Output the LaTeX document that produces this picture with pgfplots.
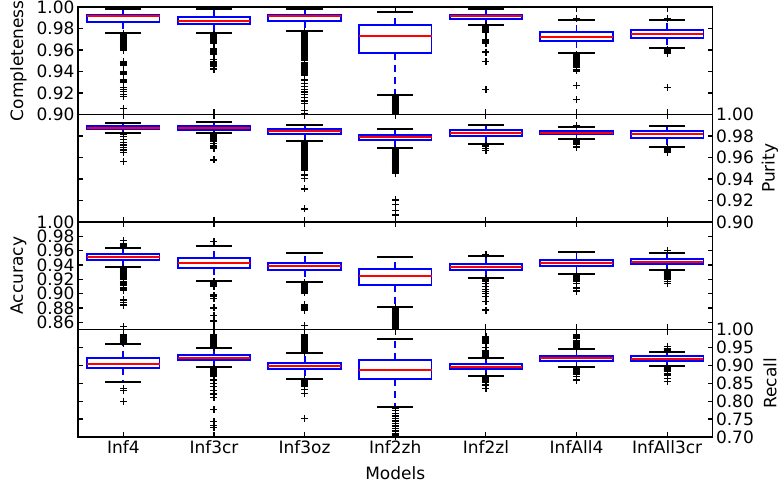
\documentclass[border=0pt]{standalone}
\usepackage{fontspec}
\setmainfont{DejaVu Sans}
\usepackage{pgfplots}
\pgfplotsset{compat=1.18}
\usepgfplotslibrary{statistics}

\pgfplotsset{
  panel/.style={
    width=634.5bp, height=107.5bp, scale only axis,
    anchor=south west,
    xmin=0.5, xmax=7.5, xtick={1,2,3,4,5,6,7}, xticklabels={},
    tick align=inside, major tick length=5bp,
    every tick/.style={black, line width=1.2bp},
    axis line style={black, line width=1.4bp},
    /pgf/number format/fixed, /pgf/number format/fixed zerofill,
    /pgf/number format/precision=2, /pgf/number format/assume math mode=true,
    minor tick num=0, clip=true,
  },
  bp/.style={
    black, solid, line width=1.8bp,
    mark=+, mark size=3.5bp, mark options={black, solid, line width=1.3bp},
    boxplot/draw direction=y,
    boxplot/box extend=0.8,
    boxplot/whisker extend=0.4,
    boxplot/every box/.style={draw=blue, line width=1.8bp, solid},
    boxplot/every median/.style={draw=red, line width=1.8bp, solid},
    boxplot/draw/lower whisker/.code={%
      \draw[blue, line width=1.8bp, dash pattern=on 7bp off 5bp]
        (boxplot box cs:\pgfplotsboxplotvalue{lower quartile},0.5) -- (boxplot box cs:\pgfplotsboxplotvalue{lower whisker},0.5);
      \draw[black, line width=1.8bp, solid]
        (boxplot whisker cs:\pgfplotsboxplotvalue{lower whisker},0) -- (boxplot whisker cs:\pgfplotsboxplotvalue{lower whisker},1);
    },
    boxplot/draw/upper whisker/.code={%
      \draw[blue, line width=1.8bp, dash pattern=on 7bp off 5bp]
        (boxplot box cs:\pgfplotsboxplotvalue{upper quartile},0.5) -- (boxplot box cs:\pgfplotsboxplotvalue{upper whisker},0.5);
      \draw[black, line width=1.8bp, solid]
        (boxplot whisker cs:\pgfplotsboxplotvalue{upper whisker},0) -- (boxplot whisker cs:\pgfplotsboxplotvalue{upper whisker},1);
    },
  },
}
% position, lower whisker, lower quartile, median, upper quartile, upper whisker, outliers
\newcommand{\bx}[7]{\addplot[bp, boxplot prepared={draw position=#1, lower whisker=#2, lower quartile=#3, median=#4, upper quartile=#5, upper whisker=#6}] table[row sep=\\, y index=0] {y\\ #7};}

\begin{document}
\begin{tikzpicture}[font=\fontsize{17bp}{20.4bp}\selectfont]
\useasboundingbox (0,0) rectangle (779bp,487bp);

% ---------------- Completeness ----------------
\begin{axis}[panel, at={(78bp,372.5bp)}, ymin=0.90, ymax=1.00,
  ytick={0.90,0.92,0.94,0.96,0.98,1.00},
  ylabel={Completeness}, ylabel style={at={(axis description cs:-0.0938,0.5)}, anchor=center}]
\bx{1}{0.9761}{0.9860}{0.9916}{0.9929}{0.9978}{0.9752\\0.9740\\0.9728\\0.9716\\0.9704\\0.9692\\0.9680\\0.9668\\0.9656\\0.9644\\0.9632\\0.9620\\0.9608\\0.9596\\0.9495\\0.9483\\0.9470\\0.9458\\0.9400\\0.9388\\0.9376\\0.9320\\0.9308\\0.9296\\0.9250\\0.9232\\0.9215\\0.9185\\0.9170\\0.9055\\}
\bx{2}{0.9755}{0.9842}{0.9873}{0.9904}{0.9978}{0.9748\\0.9736\\0.9724\\0.9712\\0.9700\\0.9688\\0.9676\\0.9664\\0.9612\\0.9600\\0.9588\\0.9576\\0.9564\\0.9512\\0.9495\\0.9478\\0.9461\\0.9444\\0.9430\\0.9420\\}
\bx{3}{0.9780}{0.9867}{0.9916}{0.9929}{0.9978}{0.9772\\0.9760\\0.9748\\0.9736\\0.9724\\0.9712\\0.9700\\0.9688\\0.9676\\0.9664\\0.9652\\0.9640\\0.9628\\0.9616\\0.9604\\0.9592\\0.9580\\0.9568\\0.9556\\0.9544\\0.9532\\0.9520\\0.9508\\0.9480\\0.9468\\0.9456\\0.9444\\0.9432\\0.9420\\0.9408\\0.9396\\0.9384\\0.9372\\0.9360\\0.9320\\0.9290\\0.9260\\0.9235\\0.9210\\0.9185\\0.9160\\0.9125\\0.9105\\0.9040\\0.9010\\}
\bx{4}{0.9184}{0.9569}{0.9733}{0.9833}{0.9957}{0.9172\\0.9162\\0.9152\\0.9142\\0.9132\\0.9122\\0.9112\\0.9102\\0.9092\\0.9082\\0.9072\\0.9062\\0.9052\\0.9042\\0.9032\\0.9022\\0.9012\\0.9002\\0.8990\\}
\bx{5}{0.9833}{0.9888}{0.9916}{0.9929}{0.9978}{0.9825\\0.9815\\0.9805\\0.9795\\0.9785\\0.9775\\0.9765\\0.9700\\0.9690\\0.9678\\0.9665\\0.9580\\0.9490\\0.9230\\}
\bx{6}{0.9569}{0.9680}{0.9724}{0.9764}{0.9879}{0.9895\\0.9558\\0.9548\\0.9538\\0.9528\\0.9518\\0.9508\\0.9498\\0.9488\\0.9478\\0.9466\\0.9450\\0.9435\\0.9420\\0.9405\\0.9270\\0.9140\\}
\bx{7}{0.9616}{0.9709}{0.9746}{0.9783}{0.9879}{0.9895\\0.9606\\0.9597\\0.9588\\0.9579\\0.9570\\0.9250\\}
\end{axis}

% ---------------- Purity ----------------
\begin{axis}[panel, at={(78bp,265bp)}, ymin=0.90, ymax=1.00,
  ytick={0.90,0.92,0.94,0.96,0.98,1.00}, yticklabel pos=right,
  ylabel={Purity}, ylabel style={at={(axis description cs:1.0906,0.5)}, anchor=center}]
\bx{1}{0.9831}{0.9862}{0.9878}{0.9893}{0.9918}{0.9818\\0.9794\\0.9769\\0.9741\\0.9716\\0.9694\\0.9670\\0.9645\\0.9561\\}
\bx{2}{0.9825}{0.9856}{0.9874}{0.9893}{0.9927}{0.9816\\0.9806\\0.9796\\0.9786\\0.9776\\0.9766\\0.9756\\0.9746\\0.9730\\0.9714\\0.9698\\0.9682\\0.9577\\}
\bx{3}{0.9757}{0.9816}{0.9847}{0.9865}{0.9902}{0.9747\\0.9735\\0.9723\\0.9711\\0.9699\\0.9687\\0.9675\\0.9663\\0.9651\\0.9639\\0.9627\\0.9615\\0.9603\\0.9591\\0.9579\\0.9567\\0.9555\\0.9543\\0.9531\\0.9519\\0.9507\\0.9495\\0.9483\\0.9437\\0.9406\\0.9307\\0.9121\\}
\bx{4}{0.9691}{0.9760}{0.9794}{0.9812}{0.9862}{0.9683\\0.9671\\0.9659\\0.9647\\0.9635\\0.9623\\0.9611\\0.9599\\0.9587\\0.9575\\0.9563\\0.9551\\0.9539\\0.9527\\0.9515\\0.9503\\0.9491\\0.9479\\0.9467\\0.9455\\0.9205\\0.9160\\0.9110\\0.9066\\}
\bx{5}{0.9722}{0.9800}{0.9831}{0.9853}{0.9905}{0.9712\\0.9702\\0.9685\\0.9665\\}
\bx{6}{0.9769}{0.9819}{0.9831}{0.9850}{0.9887}{0.9896\\0.9760\\0.9750\\0.9740\\0.9730\\0.9718\\0.9705\\0.9690\\}
\bx{7}{0.9700}{0.9784}{0.9819}{0.9843}{0.9896}{0.9692\\0.9682\\0.9672\\0.9660\\0.9645\\}
\end{axis}

% ---------------- Accuracy ----------------
\begin{axis}[panel, at={(78bp,157.5bp)}, ymin=0.85, ymax=1.00,
  ytick={0.86,0.88,0.90,0.92,0.94,0.96,0.98,1.00},
  ylabel={Accuracy}, ylabel style={at={(axis description cs:-0.0938,0.5)}, anchor=center}]
\bx{1}{0.9372}{0.9474}{0.9507}{0.9549}{0.9642}{0.9650\\0.9658\\0.9666\\0.9674\\0.9682\\0.9690\\0.9698\\0.9745\\0.9362\\0.9352\\0.9342\\0.9332\\0.9322\\0.9312\\0.9302\\0.9292\\0.9282\\0.9272\\0.9262\\0.9252\\0.9242\\0.9232\\0.9222\\0.9212\\0.9195\\0.9170\\0.9150\\0.9130\\0.9110\\0.9090\\0.9070\\0.9050\\0.8912\\0.8880\\0.8840\\0.8540\\}
\bx{2}{0.9177}{0.9353}{0.9423}{0.9493}{0.9670}{0.9726\\0.9165\\0.9155\\0.9145\\0.9135\\0.9120\\0.9105\\0.8980\\0.8958\\0.8935\\0.8800\\0.8700\\0.8620\\}
\bx{3}{0.9167}{0.9326}{0.9386}{0.9433}{0.9572}{0.9155\\0.9145\\0.9135\\0.9125\\0.9115\\0.9100\\0.9085\\0.9070\\0.9050\\0.9030\\0.9010\\0.8850\\0.8840\\0.8830\\0.8820\\0.8810\\0.8800\\0.8790\\0.8780\\0.8770\\0.8555\\}
\bx{4}{0.8819}{0.9121}{0.9251}{0.9340}{0.9516}{0.8800\\0.8788\\0.8776\\0.8764\\0.8752\\0.8740\\0.8728\\0.8716\\0.8704\\0.8692\\0.8680\\0.8668\\0.8656\\0.8644\\0.8632\\0.8620\\0.8608\\0.8596\\0.8584\\0.8572\\0.8560\\0.8548\\0.8536\\0.8524\\0.8512\\0.8500\\0.8488\\}
\bx{5}{0.9223}{0.9330}{0.9367}{0.9409}{0.9526}{0.9540\\0.9212\\0.9204\\0.9196\\0.9188\\0.9180\\0.9170\\0.9144\\0.9098\\0.9060\\0.9030\\0.9005\\0.8958\\0.8888\\0.8772\\}
\bx{6}{0.9270}{0.9386}{0.9433}{0.9470}{0.9577}{0.9258\\0.9250\\0.9242\\0.9234\\0.9226\\0.9218\\0.9210\\0.9200\\0.9190\\0.9178\\0.9167\\0.9140\\0.9080\\0.9037\\}
\bx{7}{0.9330}{0.9409}{0.9447}{0.9484}{0.9563}{0.9605\\0.9318\\0.9310\\0.9302\\0.9294\\0.9286\\0.9278\\0.9268\\0.9255\\0.9240\\0.9220\\0.9195\\0.9167\\0.9144\\}
\end{axis}

% ---------------- Recall ----------------
\begin{axis}[panel, at={(78bp,50bp)}, ymin=0.70, ymax=1.00,
  ytick={0.70,0.75,0.80,0.85,0.90,0.95,1.00}, yticklabel pos=right,
  xticklabels={Inf4,Inf3cr,Inf3oz,Inf2zh,Inf2zl,InfAll4,InfAll3cr},
  xlabel={Models}, xlabel style={at={(axis description cs:0.5,-0.335)}, anchor=center},
  ylabel={Recall}, ylabel style={at={(axis description cs:1.0906,0.5)}, anchor=center}]
\bx{1}{0.8526}{0.8916}{0.9047}{0.9195}{0.9586}{0.9605\\0.9620\\0.9635\\0.9650\\0.9665\\0.9680\\0.9695\\0.9710\\0.9725\\0.9740\\0.9755\\0.9770\\0.9785\\0.9800\\0.9815\\0.9830\\0.9845\\0.8360\\0.8290\\0.8000\\}
\bx{2}{0.8944}{0.9140}{0.9205}{0.9298}{0.9484}{0.9510\\0.9530\\0.9550\\0.9570\\0.9590\\0.9610\\0.9630\\0.9650\\0.9670\\0.9690\\0.9710\\0.9730\\0.9750\\0.9770\\0.9790\\0.9810\\0.9830\\0.9850\\0.8920\\0.8905\\0.8890\\0.8875\\0.8860\\0.8845\\0.8830\\0.8815\\0.8800\\0.8785\\0.8770\\0.8755\\0.8740\\0.8725\\0.8710\\0.8695\\0.8680\\0.8590\\0.8500\\0.8400\\0.8290\\0.8200\\0.8110\\0.7770\\0.7430\\0.7330\\0.7270\\}
\bx{3}{0.8619}{0.8888}{0.8981}{0.9074}{0.9344}{0.9365\\0.9385\\0.9405\\0.9425\\0.9445\\0.9465\\0.9485\\0.9505\\0.9525\\0.9545\\0.9565\\0.9585\\0.9605\\0.9625\\0.9645\\0.9665\\0.9685\\0.9705\\0.9725\\0.9745\\0.9765\\0.9785\\0.9805\\0.9825\\0.9845\\0.8595\\0.8580\\0.8565\\0.8550\\0.8535\\0.8520\\0.8505\\0.8490\\0.8475\\0.8460\\0.8445\\0.8410\\0.8330\\0.8220\\0.7520\\}
\bx{4}{0.7828}{0.8610}{0.8870}{0.9149}{0.9735}{0.7800\\0.7730\\0.7660\\0.7590\\0.7520\\0.7450\\0.7380\\0.7310\\0.7240\\0.7170\\0.7100\\0.7070\\0.7055\\0.7040\\0.7025\\0.7010\\}
\bx{5}{0.8702}{0.8888}{0.8963}{0.9028}{0.9214}{0.9240\\0.9255\\0.9270\\0.9285\\0.9300\\0.9315\\0.9330\\0.9360\\0.9400\\0.9500\\0.9600\\0.9620\\0.9640\\0.9660\\0.9680\\0.9700\\0.9720\\0.9740\\0.9760\\0.9780\\0.9800\\0.8680\\0.8665\\0.8650\\0.8635\\0.8620\\0.8600\\0.8560\\0.8520\\0.8450\\0.8360\\}
\bx{6}{0.8944}{0.9130}{0.9195}{0.9270}{0.9447}{0.9475\\0.9490\\0.9505\\0.9520\\0.9535\\0.9550\\0.9565\\0.9580\\0.9610\\0.9650\\0.9700\\0.9740\\0.9780\\0.9820\\0.9850\\0.8920\\0.8905\\0.8890\\0.8875\\0.8860\\0.8845\\0.8830\\0.8815\\0.8800\\0.8785\\0.8770\\0.8755\\0.8740\\0.8680\\0.8590\\}
\bx{7}{0.8990}{0.9130}{0.9186}{0.9260}{0.9381}{0.9410\\0.9425\\0.9440\\0.9455\\0.9470\\0.9520\\0.8965\\0.8950\\0.8935\\0.8920\\0.8905\\0.8890\\0.8875\\0.8860\\0.8845\\0.8820\\0.8780\\0.8730\\0.8640\\0.8540\\}
\end{axis}
\end{tikzpicture}
\end{document}
